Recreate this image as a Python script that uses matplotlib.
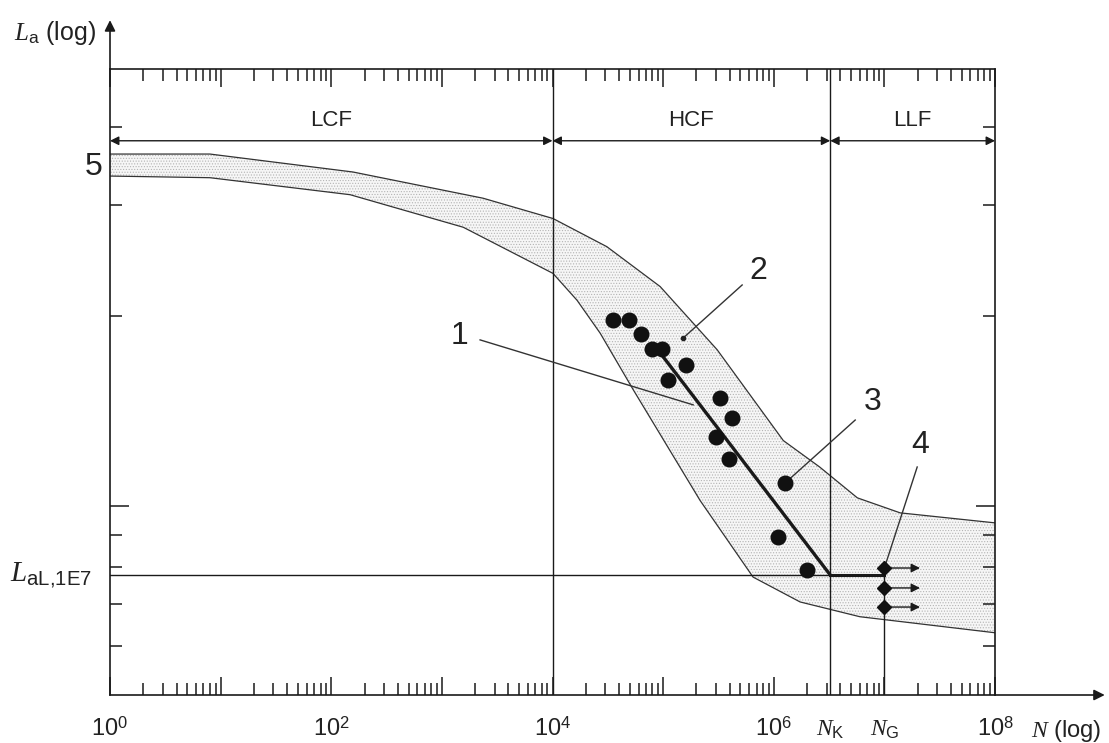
import matplotlib
matplotlib.use('Agg')
import matplotlib.pyplot as plt
from matplotlib.ticker import LogLocator, FixedLocator, NullFormatter

plt.rcParams['font.family'] = ['Liberation Sans', 'DejaVu Sans']
plt.rcParams['mathtext.fontset'] = 'custom'
plt.rcParams['mathtext.rm'] = 'Liberation Sans'
plt.rcParams['mathtext.it'] = 'Liberation Serif:italic'
plt.rcParams['hatch.linewidth'] = 0.5
plt.rcParams['hatch.color'] = '#b4b4b4'

# scatter band (N, La), upper and lower limit
band_up_N = [1, 8, 157, 2360, 1.01e4, 3.1e4, 9.4e4, 3.08e5, 1.22e6, 2.6e6, 5.7e6, 1.39e7, 1e8]
band_up_L = [3.62, 3.62, 3.39, 3.08, 2.86, 2.58, 2.23, 1.77, 1.27, 1.153, 1.03, 0.975, 0.94]
band_lo_N = [1, 8, 148, 1560, 1.01e4, 1.67e4, 2.7e4, 5.36e4, 2.16e5, 6.5e5, 1.73e6, 6.0e6, 1e8]
band_lo_L = [3.34, 3.32, 3.12, 2.77, 2.34, 2.12, 1.88, 1.53, 1.02, 0.771, 0.704, 0.667, 0.629]

# test results
test_N = [3.53e4, 4.93e4, 6.3e4, 7.96e4, 9.8e4, 1.61e5, 1.11e5, 3.27e5, 4.2e5, 3.01e5, 3.95e5, 1.27e6, 1.1e6, 2.0e6]
test_L = [1.97, 1.97, 1.875, 1.775, 1.775, 1.675, 1.585, 1.483, 1.38, 1.287, 1.187, 1.088, 0.893, 0.791]

# fitted S-N line and knee
fit_N = [9.4e4, 3.24e6]
fit_L = [1.75, 0.777]
N_K = 3.24e6
N_G = 1e7
L_aL = 0.777
runout_L = [0.797, 0.741, 0.691]
runout_end = 2.1e7

region_edges = [1, 1e4, N_K, 1e8]
region_names = ['LCF', 'HCF', 'LLF']
region_arrow_L = 3.80
region_text_L = 4.09

# callouts: label, text pos, line start, line end
callout_txt = ['1', '2', '3', '4']
callout_pos = [(1450, 1.86), (7.2e5, 2.36), (7.9e6, 1.46), (2.1e7, 1.25)]
callout_from = [(2215, 1.835), (5.18e5, 2.243), (5.45e6, 1.369), (1.98e7, 1.153)]
callout_to = [(1.87e5, 1.447), (1.52e5, 1.848), (1.27e6, 1.088), (1e7, 0.797)]

xtick_vals = [1, 1e2, 1e4, 1e6, N_K, N_G, 1e8]
xtick_txt = ['10$^{0}$', '10$^{2}$', '10$^{4}$', '10$^{6}$', '$N_{\\mathrm{K}}$', '$N_{\\mathrm{G}}$', '10$^{8}$']

fig = plt.figure(figsize=(11.09, 7.43), dpi=100)
ax = fig.add_axes([110 / 1109, 48 / 743, 885 / 1109, 626 / 743])
ax.set_xscale('log')
ax.set_yscale('log')
ax.set_xlim(1, 1e8)
ax.set_ylim(0.501, 4.94)

lc = '#1a1a1a'

# band
poly_N = band_up_N + band_lo_N[::-1]
poly_L = band_up_L + band_lo_L[::-1]
ax.fill(poly_N, poly_L, facecolor='#f6f6f6', hatch='......', edgecolor='#b4b4b4', linewidth=0)
ax.plot(band_up_N, band_up_L, color='#333333', lw=0.9)
ax.plot(band_lo_N, band_lo_L, color='#333333', lw=0.9)

# regions
ax.axvline(1e4, color=lc, lw=1.0)
ax.axvline(N_K, color=lc, lw=1.0)
ax.plot([N_G, N_G], [0.501, runout_L[0]], color=lc, lw=1.0)
for i in range(3):
    ax.annotate('', xy=(region_edges[i + 1], region_arrow_L), xytext=(region_edges[i], region_arrow_L),
                arrowprops=dict(arrowstyle='<|-|>', color=lc, lw=1.0, mutation_scale=13,
                                shrinkA=0, shrinkB=0))
    xm = (region_edges[i] * region_edges[i + 1]) ** 0.5
    ax.text(xm, region_text_L, region_names[i], ha='center', va='center', fontsize=16, color='#222222')

# endurance limit
ax.plot([1, N_K], [L_aL, L_aL], color=lc, lw=1.0)
ax.plot([N_K, N_G], [L_aL, L_aL], color=lc, lw=2.2)
ax.plot(fit_N, fit_L, color=lc, lw=2.4)

ax.plot(test_N, test_L, 'o', color='#111111', ms=10.5, zorder=5)

# run-outs
for yl in runout_L:
    ax.annotate('', xy=(runout_end, yl), xytext=(N_G, yl),
                arrowprops=dict(arrowstyle='-|>', color=lc, lw=1.0, mutation_scale=13,
                                shrinkA=0, shrinkB=0))
ax.plot([N_G] * 3, runout_L, 'D', color='#111111', ms=7.5, zorder=6)

# callouts
for t, p, a, b in zip(callout_txt, callout_pos, callout_from, callout_to):
    ax.plot([a[0], b[0]], [a[1], b[1]], color='#333333', lw=1.0)
    ax.text(p[0], p[1], t, ha='center', va='center', fontsize=23, color='#222222')
ax.plot([callout_to[1][0]], [callout_to[1][1]], 'o', color='#222222', ms=3)
ax.text(-0.018, 3.45, '5', transform=ax.get_yaxis_transform(), ha='center', va='center',
        fontsize=23, color='#222222', clip_on=False)

# ticks
ax.xaxis.set_major_locator(LogLocator(base=10, numticks=20))
ax.xaxis.set_minor_locator(LogLocator(base=10, subs=range(2, 10), numticks=200))
ax.yaxis.set_major_locator(FixedLocator([1]))
ax.yaxis.set_minor_locator(FixedLocator([0.6, 0.7, 0.8, 0.9, 2, 3, 4]))
ax.xaxis.set_minor_formatter(NullFormatter())
ax.yaxis.set_minor_formatter(NullFormatter())
ax.tick_params(which='both', direction='in', top=True, right=True, bottom=True, left=True,
               labelbottom=False, labelleft=False, color=lc, width=1.1)
ax.tick_params(axis='x', which='major', length=13)
ax.tick_params(axis='x', which='minor', length=8.5)
ax.tick_params(axis='y', which='major', length=14)
ax.tick_params(axis='y', which='minor', length=8.5)
for s in ax.spines.values():
    s.set_linewidth(1.2)
    s.set_color(lc)

for v, t in zip(xtick_vals, xtick_txt):
    ax.text(v, -0.0655, t, transform=ax.get_xaxis_transform(), ha='center', va='baseline',
            fontsize=17, color='#222222', clip_on=False)

ax.text(-0.0203, L_aL, '$L_{\\mathrm{aL{,}1E7}}$', transform=ax.get_yaxis_transform(),
        ha='right', va='center', fontsize=21, color='#222222', clip_on=False)

# axis arrows
ax.annotate('', xy=(1.124, 0), xytext=(1.0, 0), xycoords='axes fraction',
            arrowprops=dict(arrowstyle='-|>', color=lc, lw=1.2, mutation_scale=16, shrinkA=0, shrinkB=0))
ax.annotate('', xy=(0, 1.078), xytext=(0, 1.0), xycoords='axes fraction',
            arrowprops=dict(arrowstyle='-|>', color=lc, lw=1.2, mutation_scale=16, shrinkA=0, shrinkB=0))
ax.text(-0.062, 1.0575, '$L_{\\mathrm{a}}$ (log)', transform=ax.transAxes, ha='center', va='center',
        fontsize=18, color='#222222', clip_on=False)
ax.text(1.080, -0.067, '$N$ (log)', transform=ax.transAxes, ha='center', va='baseline',
        fontsize=17, color='#222222', clip_on=False)

fig.savefig('out.png', dpi=100)
